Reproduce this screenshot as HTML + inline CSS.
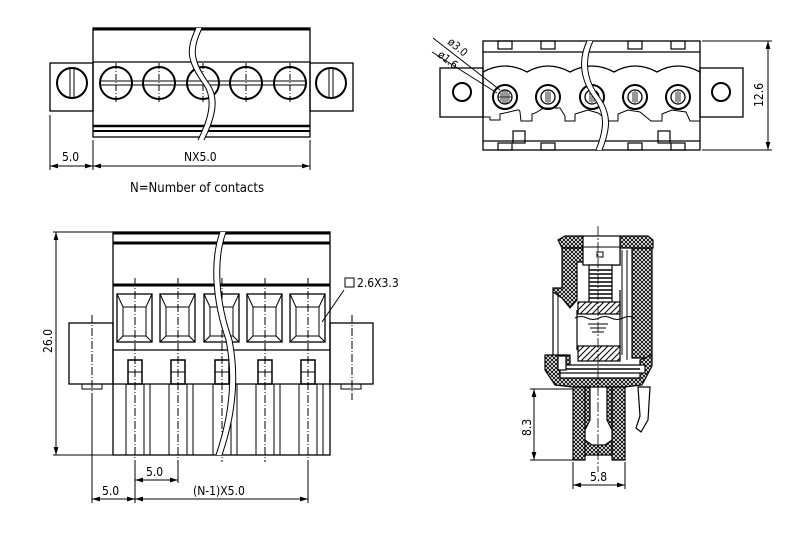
<!DOCTYPE html>
<html><head><meta charset="utf-8"><style>
html,body{margin:0;padding:0;background:#fff;width:800px;height:552px;overflow:hidden}
svg text{font-family:"DejaVu Sans Condensed","DejaVu Sans","Liberation Sans",sans-serif;fill:#000}
</style></head><body>
<svg width="800" height="552" viewBox="0 0 800 552" xmlns="http://www.w3.org/2000/svg">
<defs>
<pattern id="h" width="4" height="4" patternUnits="userSpaceOnUse">
<rect width="4" height="4" fill="#fff"/>
<path d="M0 0L4 4M4 0L0 4" stroke="#000" stroke-width="0.9"/>
</pattern>
<pattern id="d" width="6" height="6" patternUnits="userSpaceOnUse">
<rect width="6" height="6" fill="#fff"/>
<path d="M0 6L6 0M-1 1L1 -1M5 7L7 5" stroke="#000" stroke-width="1"/>
</pattern>
<marker id="a" viewBox="0 0 10 6" refX="10" refY="3" markerWidth="8" markerHeight="5" orient="auto-start-reverse"><path d="M0 0L10 3L0 6z"/></marker>
</defs>
<g fill="none" stroke="#000" stroke-width="1.3">

<!-- ===== TOP LEFT ===== -->
<rect x="50" y="63" width="43" height="48"/>
<rect x="310" y="63" width="43" height="48"/>
<rect x="93" y="28" width="217" height="109"/>
<line x1="93" y1="29" x2="310" y2="29" stroke-width="3"/>
<line x1="93" y1="62" x2="310" y2="62"/>
<line x1="93" y1="126" x2="310" y2="126" stroke-width="2.5"/>
<line x1="93" y1="131" x2="310" y2="131" stroke-width="2"/>
<g stroke-width="2">
<circle cx="116" cy="83" r="16"/><circle cx="159" cy="83" r="16"/><circle cx="203" cy="83" r="16"/><circle cx="246" cy="83" r="16"/><circle cx="290" cy="83" r="16"/>
<circle cx="72" cy="83" r="15"/><circle cx="331" cy="83" r="15"/>
</g>
<g stroke-width="1">
<line x1="100" y1="81" x2="306" y2="81"/><line x1="100" y1="85" x2="306" y2="85"/>
<line x1="70" y1="69" x2="70" y2="97"/><line x1="74" y1="69" x2="74" y2="97"/>
<line x1="329" y1="69" x2="329" y2="97"/><line x1="333" y1="69" x2="333" y2="97"/>
<g stroke-dasharray="6 2 1 2"><line x1="116" y1="63" x2="116" y2="103"/><line x1="159" y1="63" x2="159" y2="103"/><line x1="203" y1="63" x2="203" y2="103"/><line x1="246" y1="63" x2="246" y2="103"/><line x1="290" y1="63" x2="290" y2="103"/></g>
</g>
<path d="M196 28 C186 50,186 60,204 85 C214 100,208 120,198 140 L204 140 C214 120,220 100,210 85 C192 60,192 50,202 28 Z" fill="#fff" stroke="none"/>
<path d="M196 28 C186 50,186 60,204 85 C214 100,208 120,198 140" stroke-width="1"/>
<path d="M202 28 C192 50,192 60,210 85 C220 100,214 120,204 140" stroke-width="1"/>
<g stroke-width="1">
<line x1="50" y1="115" x2="50" y2="170"/><line x1="93" y1="140" x2="93" y2="170"/><line x1="310" y1="140" x2="310" y2="170"/>
<line x1="50" y1="166" x2="93" y2="166" marker-start="url(#a)" marker-end="url(#a)"/>
<line x1="93" y1="166" x2="310" y2="166" marker-start="url(#a)" marker-end="url(#a)"/>
</g>

<!-- ===== TOP RIGHT ===== -->
<rect x="440" y="68" width="43" height="49"/>
<rect x="700" y="68" width="43" height="49"/>
<rect x="483" y="41" width="217" height="109"/>
<line x1="483" y1="52" x2="700" y2="52"/>
<line x1="483" y1="141" x2="700" y2="141"/>
<g stroke-width="1.2">
<rect x="498" y="41" width="14" height="8"/><rect x="541" y="41" width="14" height="8"/><rect x="628" y="41" width="14" height="8"/><rect x="671" y="41" width="14" height="8"/>
<rect x="498" y="143" width="14" height="7"/><rect x="541" y="143" width="14" height="7"/><rect x="628" y="143" width="14" height="7"/><rect x="671" y="143" width="14" height="7"/>
<rect x="513" y="131" width="12" height="12"/><rect x="658" y="131" width="12" height="12"/>
</g>
<path d="M483 72 Q505 60 527 72 Q548 60 570 72 Q592 60 614 72 Q635 60 657 72 Q678 60 700 72"/>
<path d="M483 117 L490 117 L490 120 L500 120 L500 114 C520 110 519 108 520 112 L521 121 L532 121 L532 114 C540 112 541 108 545 108 L560 108 L565 116 L565 121 L575 121 L575 114 L588 110 L598 113 L609 121 L618 121 L618 114 L628 110 L640 112 L651 121 L662 121 L662 114 L672 110 L686 112 L690 121 L700 121" stroke-width="1"/>
<g stroke-width="2">
<circle cx="462" cy="92" r="9"/><circle cx="721" cy="92" r="9"/>
<circle cx="505" cy="97" r="12"/><circle cx="548" cy="97" r="12"/><circle cx="592" cy="97" r="12"/><circle cx="635" cy="97" r="12"/><circle cx="678" cy="97" r="12"/>
</g>
<g stroke-width="1.3">
<circle cx="505" cy="97" r="7"/><circle cx="548" cy="97" r="7"/><circle cx="592" cy="97" r="7"/><circle cx="635" cy="97" r="7"/><circle cx="678" cy="97" r="7"/>
</g>
<g stroke-width="0.8">
<path d="M501 93v8M503 91v12M505 90v14M507 91v12M509 93v8M498 97h14"/>
<path d="M546 92v10M548 91v12M550 92v10M590 92v10M592 91v12M594 92v10M633 92v10M635 91v12M637 92v10M676 92v10M678 91v12M680 92v10"/>
</g>
<path d="M587 41 C578 60,580 80,594 98 C606 115,604 130,596 150 L602 150 C610 130,612 115,600 98 C586 80,584 60,593 41 Z" fill="#fff" stroke="none"/>
<path d="M587 41 C578 60,580 80,594 98 C606 115,604 130,596 150" stroke-width="1"/>
<path d="M593 41 C584 60,586 80,600 98 C612 115,610 130,602 150" stroke-width="1"/>
<g stroke-width="1">
<line x1="433" y1="38" x2="500" y2="90"/><line x1="432" y1="52" x2="497" y2="93"/>
<line x1="702" y1="41" x2="772" y2="41"/><line x1="702" y1="150" x2="772" y2="150"/>
<line x1="768" y1="41" x2="768" y2="150" marker-start="url(#a)" marker-end="url(#a)"/>
</g>

<!-- ===== BOTTOM LEFT ===== -->
<rect x="69" y="323" width="44" height="61"/>
<rect x="330" y="323" width="43" height="61"/>
<rect x="113" y="232" width="217" height="223"/>
<line x1="113" y1="233" x2="330" y2="233" stroke-width="3"/>
<line x1="113" y1="243" x2="330" y2="243" stroke-width="3"/>
<line x1="113" y1="285" x2="330" y2="285" stroke-width="3"/>
<line x1="113" y1="350" x2="330" y2="350"/>
<line x1="113" y1="384" x2="330" y2="384"/>
<rect x="82" y="384" width="20" height="5" stroke-width="1"/><rect x="341" y="384" width="20" height="5" stroke-width="1"/>
<g stroke-width="1.3">
<rect x="117" y="294" width="35" height="48"/><rect x="160" y="294" width="35" height="48"/><rect x="204" y="294" width="35" height="48"/><rect x="247" y="294" width="35" height="48"/><rect x="290" y="294" width="35" height="48"/>
</g>
<g stroke-width="1">
<rect x="123" y="307" width="23" height="29"/><rect x="166" y="307" width="23" height="29"/><rect x="210" y="307" width="23" height="29"/><rect x="253" y="307" width="23" height="29"/><rect x="296" y="307" width="23" height="29"/>
<path d="M117 294L123 307M152 294L146 307M117 342L123 336M152 342L146 336M160 294L166 307M195 294L189 307M160 342L166 336M195 342L189 336M204 294L210 307M239 294L233 307M204 342L210 336M239 342L233 336M247 294L253 307M282 294L276 307M247 342L253 336M282 342L276 336M290 294L296 307M325 294L319 307M290 342L296 336M325 342L319 336"/>
</g>
<g stroke-width="1.5">
<rect x="128" y="360" width="14" height="24"/><rect x="171" y="360" width="14" height="24"/><rect x="215" y="360" width="14" height="24"/><rect x="258" y="360" width="14" height="24"/><rect x="301" y="360" width="14" height="24"/>
</g>
<g stroke-width="1">
<line x1="128" y1="372" x2="315" y2="372" stroke="none"/>
<path d="M128 372h14M171 372h14M215 372h14M258 372h14M301 372h14"/>
<path d="M126 384V455M144 384V455M150 384V455M169 384V455M187 384V455M193 384V455M213 384V455M231 384V455M237 384V455M256 384V455M274 384V455M280 384V455M299 384V455M317 384V455M323 384V455"/>
<g stroke-dasharray="8 2 1 2"><line x1="92" y1="315" x2="92" y2="400"/><line x1="352" y1="315" x2="352" y2="400"/>
<line x1="135" y1="278" x2="135" y2="462"/><line x1="178" y1="278" x2="178" y2="462"/><line x1="222" y1="278" x2="222" y2="462"/><line x1="265" y1="278" x2="265" y2="462"/><line x1="308" y1="278" x2="308" y2="462"/></g>
</g>
<path d="M220 232 C210 260,212 300,226 340 C234 380,228 420,216 455 L222 455 C234 420,240 380,232 340 C218 300,216 260,226 232 Z" fill="#fff" stroke="none"/>
<path d="M220 232 C210 260,212 300,226 340 C234 380,228 420,216 455" stroke-width="1"/>
<path d="M226 232 C216 260,218 300,232 340 C240 380,234 420,222 455" stroke-width="1"/>
<g stroke-width="1">
<line x1="53" y1="232" x2="113" y2="232"/><line x1="53" y1="455" x2="113" y2="455"/>
<line x1="56" y1="232" x2="56" y2="455" marker-start="url(#a)" marker-end="url(#a)"/>
<line x1="92" y1="400" x2="92" y2="503"/><line x1="135" y1="462" x2="135" y2="503"/><line x1="178" y1="462" x2="178" y2="483"/><line x1="308" y1="462" x2="308" y2="503"/>
<line x1="135" y1="480" x2="178" y2="480" marker-start="url(#a)" marker-end="url(#a)"/>
<line x1="92" y1="499" x2="135" y2="499" marker-start="url(#a)" marker-end="url(#a)"/>
<line x1="135" y1="499" x2="308" y2="499" marker-start="url(#a)" marker-end="url(#a)"/>
<line x1="322" y1="322" x2="344" y2="290"/>
<rect x="345" y="278" width="9" height="9"/>
</g>

<!-- ===== BOTTOM RIGHT (section) ===== -->
<g stroke-width="1.2">
<!-- right wall -->
<rect x="632" y="248" width="20" height="110" fill="url(#h)"/>
<line x1="622" y1="250" x2="622" y2="355" stroke-width="1"/><line x1="627" y1="250" x2="627" y2="360" stroke-width="1"/>
<!-- cap -->
<path d="M562 248 L558 240 L565 236 L583 236 L583 248 Z" fill="url(#h)"/>
<path d="M620 236 L648 236 L653 240 L653 248 L620 248 Z" fill="url(#h)"/>
<path d="M562 248 L583 248 L583 262 L577 262 L577 300 L570 308 L562 298 L553 292 L553 288 L562 288 Z" fill="url(#h)"/>
<path d="M609 248 L620 248 L620 265 L609 265 Z" fill="url(#h)"/>
<!-- screw head -->
<rect x="583" y="236" width="37" height="29" fill="#fff"/>
<line x1="583" y1="247" x2="620" y2="247" stroke-width="1"/>
<path d="M597 252h6v5h-6z" stroke-width="1"/>
<!-- spring -->
<rect x="589" y="265" width="23" height="40" fill="#fff"/>
<path d="M589 270h23M589 274h23M589 278h23M589 282h23M589 286h23M589 290h23M589 294h23M589 298h23" stroke-width="1.5"/>
<!-- hatched bars -->
<rect x="578" y="302" width="42" height="12" fill="url(#d)"/>
<path d="M575 318 q6 -3 12 0 t12 0 t12 0 t12 0 t12 0" stroke-width="1"/>
<path d="M588 324h20M590 328h16M592 332h12" stroke-width="1"/>
<line x1="577" y1="310" x2="577" y2="350"/><line x1="620" y1="290" x2="620" y2="350"/>
<line x1="553" y1="292" x2="553" y2="355"/><line x1="558" y1="292" x2="558" y2="355" stroke-width="1"/>
<rect x="578" y="346" width="42" height="15" fill="url(#d)"/>
<!-- flange -->
<path d="M545 355 L570 355 L570 370 L560 370 L560 378 L640 378 L640 360 L652 355 L652 366 L642 385 L625 387 L573 387 L555 385 L545 370 Z" fill="url(#h)"/>
<rect x="560" y="365" width="85" height="8" fill="#fff"/>
<line x1="560" y1="369" x2="640" y2="369" stroke-width="1.5"/>
<rect x="558" y="356" width="8" height="14" fill="#fff"/>
<!-- post -->
<path d="M573 387 L585 387 L585 460 L573 460 Z" fill="url(#h)"/>
<path d="M612 387 L625 387 L625 460 L612 460 Z" fill="url(#h)"/>
<path d="M585 387 L590 387 L590 420 L585 430 Z" fill="url(#h)"/>
<path d="M612 387 L607 387 L607 420 L612 430 Z" fill="url(#h)"/>
<path d="M585 440 L592 445 L605 445 L612 440 L612 455 L585 455 Z" fill="url(#h)"/>
<!-- clip -->
<path d="M638 387 L650 387 L648 420 L641 432 L636 428 L640 416 Z" fill="#fff"/>
</g>
<g stroke-width="0.8" stroke-dasharray="10 2 2 2"><line x1="598" y1="226" x2="598" y2="472"/></g>
<g stroke-width="1">
<line x1="530" y1="389" x2="573" y2="389"/><line x1="530" y1="460" x2="573" y2="460"/>
<line x1="534" y1="389" x2="534" y2="460" marker-start="url(#a)" marker-end="url(#a)"/>
<line x1="573" y1="462" x2="573" y2="489"/><line x1="625" y1="462" x2="625" y2="489"/>
<line x1="573" y1="485" x2="625" y2="485" marker-start="url(#a)" marker-end="url(#a)"/>
</g>
</g>

<!-- TEXT -->
<g font-size="12">
<text x="62" y="161">5.0</text>
<text x="184" y="161">NX5.0</text>
<text x="130" y="192" font-size="13">N=Number of contacts</text>
<text x="763" y="107" transform="rotate(-90 763 107)">12.6</text>
<text x="447" y="43" transform="rotate(40 447 43)" font-size="11">ø3.0</text>
<text x="437" y="56" transform="rotate(38 437 56)" font-size="11">ø1.6</text>
<text x="52" y="353" transform="rotate(-90 52 353)">26.0</text>
<text x="146" y="476">5.0</text>
<text x="102" y="495">5.0</text>
<text x="193" y="495">(N-1)X5.0</text>
<text x="357" y="287">2.6X3.3</text>
<text x="531" y="436" transform="rotate(-90 531 436)">8.3</text>
<text x="590" y="481">5.8</text>
</g>
</svg>
</body></html>
